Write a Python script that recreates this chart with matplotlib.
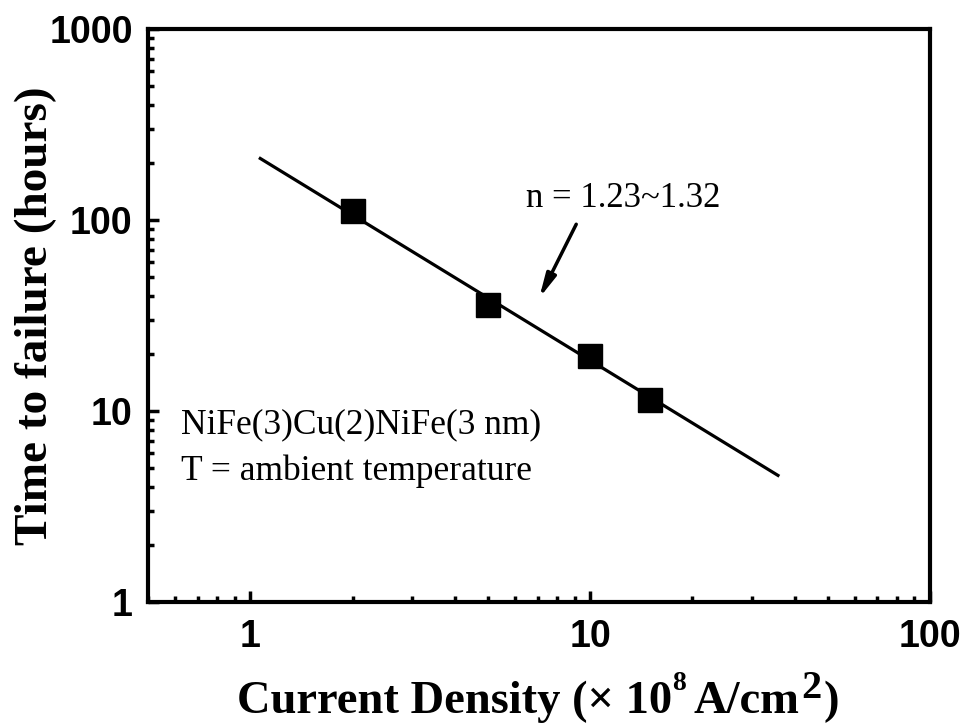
import matplotlib
matplotlib.use("Agg")
import matplotlib.pyplot as plt
from matplotlib.ticker import LogLocator, NullFormatter, FixedLocator, FixedFormatter

# Data
current_density = [2, 5, 10, 15]
time_to_failure = [111, 36, 19.3, 11.4]
fit_x = [1.07, 35.7]
fit_y = [210, 4.6]
x_ticks = [1, 10, 100]
x_tick_labels = ["1", "10", "100"]
y_ticks = [1, 10, 100, 1000]
y_tick_labels = ["1", "10", "100", "1000"]

W, H = 963, 724
fig = plt.figure(figsize=(W/100, H/100), dpi=100)
ax = fig.add_axes([148/W, 1 - 602/H, (930-148)/W, (602-29)/H])

ax.plot(fit_x, fit_y, color='black', lw=2.3, zorder=2)
ax.plot(current_density, time_to_failure, 's', color='black', markersize=17, zorder=3)

ax.set_xscale('log')
ax.set_yscale('log')
ax.set_xlim(0.5, 100)
ax.set_ylim(1, 1000)

for s in ax.spines.values():
    s.set_linewidth(3)

ax.xaxis.set_major_locator(FixedLocator(x_ticks))
ax.xaxis.set_major_formatter(FixedFormatter(x_tick_labels))
ax.yaxis.set_major_locator(FixedLocator(y_ticks))
ax.yaxis.set_major_formatter(FixedFormatter(y_tick_labels))
ax.xaxis.set_minor_locator(LogLocator(base=10, subs=range(2, 10)))
ax.yaxis.set_minor_locator(LogLocator(base=10, subs=range(2, 10)))
ax.xaxis.set_minor_formatter(NullFormatter())
ax.yaxis.set_minor_formatter(NullFormatter())

ax.tick_params(which='both', direction='in', top=False, right=False, width=2.5)
ax.tick_params(which='major', length=8)
ax.tick_params(which='minor', length=4.5)
ax.tick_params(axis='x', which='major', pad=12)
ax.tick_params(axis='y', which='major', pad=11)
for lab in ax.get_xticklabels() + ax.get_yticklabels():
    lab.set_fontfamily('Liberation Sans')
    lab.set_fontweight('bold')
    lab.set_fontsize(27)

# y label
ax.set_ylabel('Time to failure (hours)', fontfamily='Liberation Serif',
              fontweight='bold', fontsize=34)
ax.yaxis.set_label_coords((57 - 148) / 782, 0.5)

# x label built from pieces (small raised "8", large raised "2")
xl_kw = dict(fontfamily='Liberation Serif', fontweight='bold', va='baseline', ha='left')
pieces = [
    ('Current Density (× 10', 33.5, 713, 0),
    ('8', 20, 690, 8),
    ('A/cm', 33.5, 713, 1),
    ('2', 29, 698, 2),
    (')', 33.5, 713, 0),
]
x_px = 237
fig.canvas.draw()
r = fig.canvas.get_renderer()
for txt, fs, base, gap in pieces:
    t = fig.text(x_px / W, 1 - base / H, txt, fontsize=fs, **xl_kw)
    bb = t.get_window_extent(r)
    x_px = bb.x1 + gap

ax.text(0.627, 7.67, 'NiFe(3)Cu(2)NiFe(3 nm)', fontfamily='Liberation Serif',
        fontsize=25.5, va='baseline', ha='left')
ax.text(0.627, 4.36, 'T = ambient temperature', fontfamily='Liberation Serif',
        fontsize=25.5, va='baseline', ha='left')
ax.text(6.48, 117.4, 'n = 1.23~1.32', fontfamily='Liberation Serif',
        fontsize=25, va='baseline', ha='left')

ax.annotate('', xy=(7.08, 39), xytext=(9.1, 95),
            arrowprops=dict(arrowstyle='-|>,head_length=1.4,head_width=0.3',
                            color='black', lw=2.5, shrinkA=0, shrinkB=0))

fig.savefig('out.png', dpi=100)
